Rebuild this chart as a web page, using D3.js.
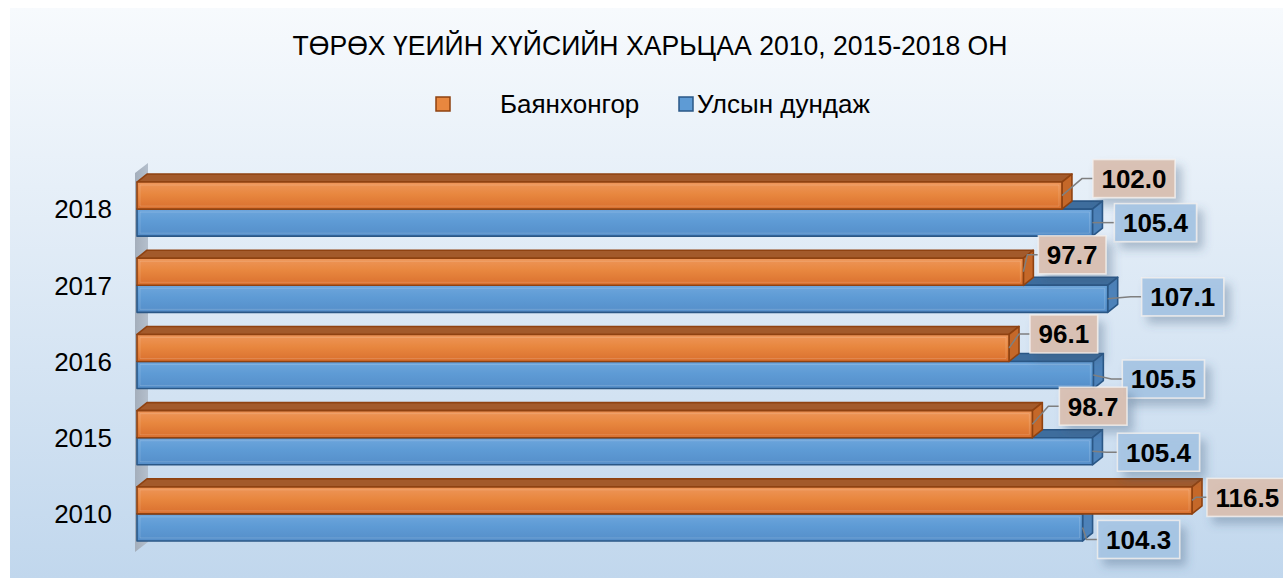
<!DOCTYPE html>
<html>
<head>
<meta charset="utf-8">
<script src="https://cdn.jsdelivr.net/npm/d3@7"></script>
<style>
  body { margin: 0; background: #fff; }
  svg { display: block; font-family: 'Liberation Sans', Arial, sans-serif; }
</style>
</head>
<body>
<svg></svg>
<script>
// years, bottom to top as in the sheet
const years = ['2010', '2015', '2016', '2017', '2018']
const seriesNames = ['Баянхонгор', 'Улсын дундаж']
const bayankhongor = [116.5, 98.7, 96.1, 97.7, 102.0]
const national = [104.3, 105.4, 105.5, 107.1, 105.4]
const title = 'ТӨРӨХ ҮЕИЙН ХҮЙСИЙН ХАРЬЦАА 2010, 2015-2018 ОН'

const width = 1283
const height = 579
const depth = { dx: 10, dy: -8 }

const dataset = years.map((year, i) => ({
  year: year,
  values: [bayankhongor[i], national[i]]
}))

const colors = [
  { front: ['#ee965a', '#e8873f', '#d96f2e'], top: '#a35a2b', side: '#c56829', stroke: '#8f4211', label: '#d9c0b2' },
  { front: ['#6ea6dc', '#5e9bd5', '#558ec9'], top: '#3e6d9d', side: '#4d82b9', stroke: '#2a5786', label: '#a6c5e4' }
]

// hand placed label offsets from Excel (dx from bar end, dy from bar middle)
const nudge = {
  '2018': [[31, -17], [22, 0]],
  '2017': [[15, -17], [34, -2]],
  '2016': [[21, -14], [29, 4]],
  '2015': [[27, -18], [25, 1]],
  '2010': [[15, -3], [15, 12]]
}

const svg = d3.select('svg')
  .attr('width', width)
  .attr('height', height)

const defs = svg.append('defs')

const bg = defs.append('linearGradient').attr('id', 'bg')
  .attr('x1', 0).attr('y1', 0).attr('x2', 0).attr('y2', 1)
bg.append('stop').attr('offset', '0%').attr('stop-color', '#f7fafd')
bg.append('stop').attr('offset', '100%').attr('stop-color', '#c1d7ed')

colors.forEach((c, i) => {
  const g = defs.append('linearGradient').attr('id', 'front' + i)
    .attr('x1', 0).attr('y1', 0).attr('x2', 0).attr('y2', 1)
  g.append('stop').attr('offset', '0%').attr('stop-color', c.front[0])
  g.append('stop').attr('offset', '45%').attr('stop-color', c.front[1])
  g.append('stop').attr('offset', '100%').attr('stop-color', c.front[2])
})

const wallGrad = defs.append('linearGradient').attr('id', 'wall')
  .attr('x1', 0).attr('y1', 0).attr('x2', 1).attr('y2', 0)
wallGrad.append('stop').attr('offset', '0%').attr('stop-color', '#a4aebb')
wallGrad.append('stop').attr('offset', '100%').attr('stop-color', '#b4bfcc')

const shadow = defs.append('filter').attr('id', 'shadow')
  .attr('x', '-30%').attr('y', '-30%').attr('width', '170%').attr('height', '190%')
shadow.append('feDropShadow')
  .attr('dx', 6).attr('dy', 7).attr('stdDeviation', 5)
  .attr('flood-color', '#3d5878').attr('flood-opacity', 0.35)

// chart area background
svg.append('rect')
  .attr('x', 10).attr('y', 8)
  .attr('width', width - 10).attr('height', height - 9)
  .attr('fill', 'url(#bg)')

const x = d3.scaleLinear()
  .domain([0, 120])
  .range([147, 147 + 120 * 8.97])

const y = d3.scaleBand()
  .domain(years.slice().reverse())
  .range([171, 552])
  .paddingInner(0.29)
  .paddingOuter(0.145)

const ySeries = d3.scaleBand()
  .domain([0, 1])
  .range([0, y.bandwidth()])

const x0 = x(0) - depth.dx

// back wall of the 3d plot
const wallTop = y.range()[0]
const wallBottom = y.range()[1]
svg.append('path')
  .attr('d', `M${x0 - 2},${wallTop + 2} L${x0 + 11},${wallTop - 8} L${x0 + 11},${wallBottom - 10} L${x0 - 2},${wallBottom} Z`)
  .attr('fill', 'url(#wall)')

// year labels
svg.append('g')
  .attr('font-size', '26px')
  .attr('fill', '#000')
  .attr('text-anchor', 'end')
  .selectAll('text')
  .data(years)
  .join('text')
  .attr('x', 112)
  .attr('y', d => y(d) + y.bandwidth() / 2)
  .attr('dy', '0.36em')
  .text(d => d)

function bar3d (g, d, s) {
  const v = d.values[s]
  const c = colors[s]
  const top = y(d.year) + ySeries(s)
  const h = ySeries.bandwidth()
  const x1 = x(v)
  const grp = g.append('g')
    .attr('stroke', c.stroke)
    .attr('stroke-width', 1.6)
    .attr('stroke-linejoin', 'round')
  grp.append('path')
    .attr('d', `M${x0},${top} L${x0 + depth.dx},${top + depth.dy} L${x1 + depth.dx},${top + depth.dy} L${x1},${top} Z`)
    .attr('fill', c.top)
  grp.append('path')
    .attr('d', `M${x1},${top} L${x1 + depth.dx},${top + depth.dy} L${x1 + depth.dx},${top + h + depth.dy} L${x1},${top + h} Z`)
    .attr('fill', c.side)
  grp.append('rect')
    .attr('x', x0).attr('y', top)
    .attr('width', x1 - x0).attr('height', h)
    .attr('fill', `url(#front${s})`)
  // soft bevel on the front face
  grp.append('rect')
    .attr('x', x0 + 3).attr('y', top + 3)
    .attr('width', x1 - x0 - 6).attr('height', h - 6)
    .attr('fill', 'none')
    .attr('stroke', '#fff')
    .attr('stroke-opacity', 0.15)
    .attr('stroke-width', 1)
}

// bars: lower series first so the orange one sits in front
const bars = svg.append('g')
dataset.slice().reverse().forEach(d => {
  bar3d(bars, d, 1)
  bar3d(bars, d, 0)
})

// data labels with leader lines
const labels = svg.append('g')
  .attr('font-size', '26px')
  .attr('font-weight', 'bold')
dataset.slice().reverse().forEach(d => {
  [0, 1].forEach(s => {
    const v = d.values[s]
    const c = colors[s]
    const n = nudge[d.year][s]
    const barMid = y(d.year) + ySeries(s) + ySeries.bandwidth() / 2
    const bx = x(v) + n[0]
    const cy = barMid + n[1]
    const lbl = labels.append('g')
    const t = lbl.append('text')
      .attr('x', bx + 8.5)
      .attr('y', cy)
      .attr('dy', '0.36em')
      .attr('fill', '#000')
      .text(d3.format('.1f')(v))
    const tw = t.node().getComputedTextLength()
    lbl.insert('rect', 'text')
      .attr('x', bx).attr('y', cy - 19)
      .attr('width', tw + 17).attr('height', 38)
      .attr('fill', c.label)
      .attr('fill-opacity', 0.95)
      .attr('stroke', '#f4f0ee')
      .attr('stroke-opacity', 0.8)
      .attr('stroke-width', 1.5)
      .attr('filter', 'url(#shadow)')
    lbl.insert('path', 'rect')
      .attr('d', `M${x(v)},${barMid} L${bx - 11},${cy} L${bx},${cy}`)
      .attr('fill', 'none')
      .attr('stroke', '#7f7f7f')
      .attr('stroke-width', 1.5)
  })
})

// title
svg.append('text')
  .attr('x', 650)
  .attr('y', 45)
  .attr('dy', '0.36em')
  .attr('text-anchor', 'middle')
  .attr('font-size', '28px')
  .attr('textLength', 715)
  .attr('lengthAdjust', 'spacingAndGlyphs')
  .attr('fill', '#000')
  .text(title)

// legend
const legend = svg.append('g').attr('font-size', '26px')
const legendItems = [
  { sx: 436, tx: 500 },
  { sx: 679, tx: 697 }
]
seriesNames.forEach((name, s) => {
  legend.append('rect')
    .attr('x', legendItems[s].sx).attr('y', 97)
    .attr('width', 14).attr('height', 14)
    .attr('fill', colors[s].front[1])
    .attr('stroke', colors[s].stroke)
    .attr('stroke-width', 1.5)
  legend.append('text')
    .attr('x', legendItems[s].tx)
    .attr('y', 104)
    .attr('dy', '0.36em')
    .attr('fill', '#000')
    .text(name)
})
</script>
</body>
</html>
